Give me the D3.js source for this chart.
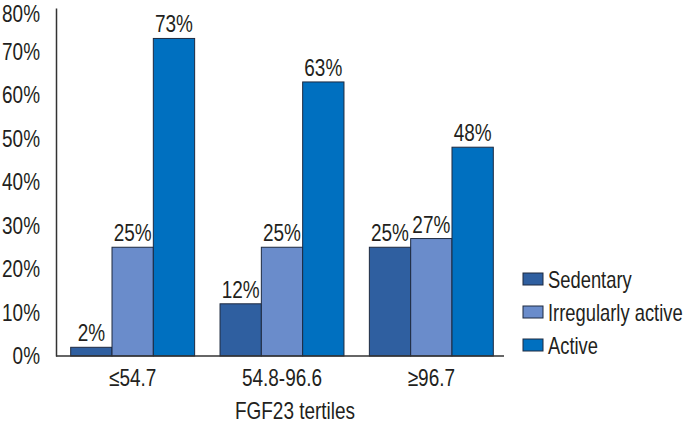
<!DOCTYPE html>
<html>
<head>
<meta charset="utf-8">
<script src="https://cdn.jsdelivr.net/npm/d3@7"></script>
<style>
  html, body { margin: 0; padding: 0; background: #fff; }
  svg { display: block; }
  text { font-family: "Liberation Sans Narrow", "Arial Narrow", "Liberation Sans", sans-serif; fill: #231f20; }
</style>
</head>
<body>
<svg id="chart" width="691" height="424"></svg>
<script>
const categories = ["\u226454.7", "54.8-96.6", "\u226596.7"];
const seriesNames = ["Sedentary", "Irregularly active", "Active"];
const sedentary = [2, 12, 25];
const irregularlyActive = [25, 25, 27];
const active = [73, 63, 48];
const yTicks = [0, 10, 20, 30, 40, 50, 60, 70, 80];
const colors = ["#2f5fa0", "#6a8ccb", "#0070c0"];
const xTitle = "FGF23 tertiles";

const seriesValues = [sedentary, irregularlyActive, active];
const svg = d3.select("#chart");
const FS = 24;

const y = d3.scaleLinear().domain([0, 80]).range([356, 8]);
const x0 = d3.scaleBand().domain(categories).range([58, 506]).paddingInner(0.17).paddingOuter(0.085);
const x1 = d3.scaleBand().domain(seriesNames).range([0, x0.bandwidth()]);

// bars
const groups = svg.append("g").selectAll("g")
  .data(categories).join("g")
  .attr("transform", d => `translate(${x0(d)},0)`);

groups.selectAll("rect")
  .data((c, i) => seriesNames.map((s, j) => ({ s, j, v: seriesValues[j][i] })))
  .join("rect")
  .attr("x", d => x1(d.s))
  .attr("y", d => y(d.v))
  .attr("width", x1.bandwidth())
  .attr("height", d => y(0) - y(d.v))
  .attr("fill", d => colors[d.j])
  .attr("stroke", "#1e2a40")
  .attr("stroke-width", 1);

groups.selectAll("text.val")
  .data((c, i) => seriesNames.map((s, j) => ({ s, j, v: seriesValues[j][i] })))
  .join("text")
  .attr("class", "val")
  .attr("x", d => x1(d.s) + x1.bandwidth() / 2)
  .attr("y", d => y(d.v) - 6)
  .attr("text-anchor", "middle")
  .attr("font-size", FS)
  .text(d => d.v + "%");

// y axis
const yAxis = d3.axisLeft(y).tickValues(yTicks).tickSize(0).tickPadding(16).tickFormat(d => d + "%");
const gy = svg.append("g").attr("transform", "translate(56,0)").call(yAxis);
gy.select(".domain").attr("stroke", "#333").attr("stroke-width", 1.5);
gy.selectAll("text").attr("font-size", FS).attr("font-family", null).attr("fill", "#231f20");
gy.selectAll(".tick").filter(d => d === 80).select("text").attr("dy", "0.55em");

// x axis
const xAxis = d3.axisBottom(x0).tickSize(0).tickPadding(13);
const gx = svg.append("g").attr("transform", "translate(0,356)").call(xAxis);
gx.select(".domain").remove();
gx.selectAll("text").attr("font-size", FS).attr("font-family", null).attr("fill", "#231f20");
svg.append("line").attr("x1", 56).attr("x2", 504).attr("y1", y(0)).attr("y2", y(0))
  .attr("stroke", "#333").attr("stroke-width", 1.5);

svg.append("text").attr("x", 295).attr("y", 419).attr("text-anchor", "middle")
  .attr("font-size", FS).text(xTitle);

// legend
const leg = svg.append("g").selectAll("g").data(seriesNames).join("g")
  .attr("transform", (d, i) => `translate(523,${273 + i * 33})`);
leg.append("rect").attr("width", 20).attr("height", 12)
  .attr("fill", (d, i) => colors[i]).attr("stroke", "#1e2a40").attr("stroke-width", 1);
leg.append("text").attr("class", "leg").attr("x", 25).attr("y", 14.5).attr("font-size", FS).text(d => d);

// condense all text to mimic a narrow typeface
svg.selectAll("text").each(function () {
  const w = this.getComputedTextLength();
  const f = d3.select(this).classed("leg") ? 0.765 : 0.79;
  d3.select(this).attr("textLength", w * f).attr("lengthAdjust", "spacingAndGlyphs");
});
</script>
</body>
</html>
